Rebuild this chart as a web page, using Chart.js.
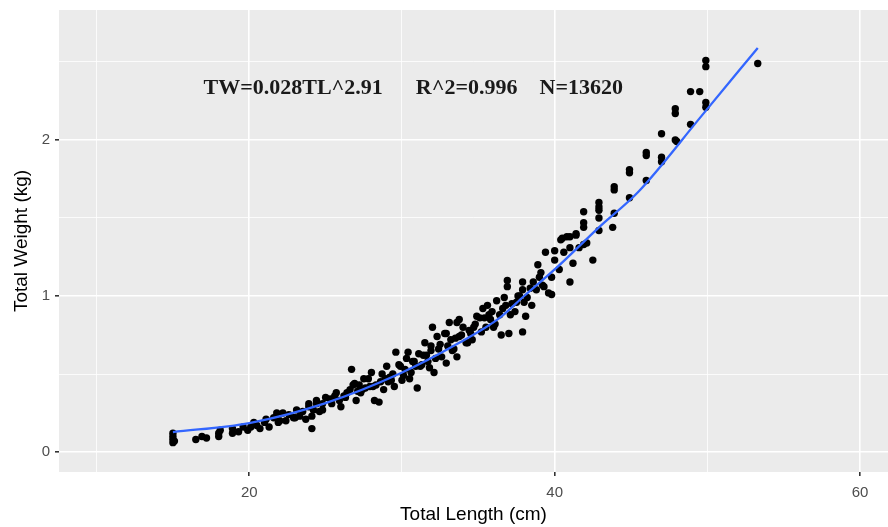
<!DOCTYPE html>
<html>
<head>
<meta charset="utf-8">
<script src="https://cdn.jsdelivr.net/npm/chart.js@4/dist/chart.umd.min.js"></script>
<style>
  html, body { margin: 0; padding: 0; background: #ffffff; }
  #wrap { width: 888px; height: 527px; }
</style>
</head>
<body>
<div id="wrap"><canvas id="lw" width="888" height="527"></canvas></div>
<script>
// total length (cm) of each fish
const lengthCm = [
  15, 15, 15, 15, 15.1, 16.5, 16.9, 17.2, 18, 18, 18.1, 18.9, 18.9, 19.3, 19.6,
  19.9, 20.1, 20.5, 20.7, 21, 21.3, 21.6, 21.8, 22.2, 22.4, 22.9, 23.1, 23.5, 23.9, 24.1, 24.1, 24.4,
  20.3, 21.1, 21.9, 22.6, 23.3, 23.7, 24.6, 24.8,
  23.9, 24.4, 24.8, 25.0, 25.4, 25.7, 26.0, 26.4, 26.7, 26.9, 27.0, 27.3, 27.5, 27.9,
  28.0, 28.2, 28.5, 28.6, 29.0, 29.2, 29.5, 29.6, 29.8, 30.0, 30.3, 30.4, 30.6, 30.9,
  31.0, 31.1, 31.5, 31.7, 31.9, 32.0, 32.1, 32.3, 32.6, 32.8, 32.9, 33.2, 33.6, 33.6,
  25.3, 26.2, 26.6, 27.6, 28.3, 28.9, 29.4, 30.2, 30.8, 31.3, 31.6, 32.4, 33.0, 33.4, 27.2, 28.8, 30.5, 31.8,
  32.9, 33.1, 33.75, 33.75, 34.4, 34.6, 34.9, 35.3, 35.5, 35.8, 36.2, 36.5, 36.7, 36.9, 36.9,
  37.0, 37.4, 37.5, 37.9, 37.9, 38.1, 38.2, 37.9, 38.5, 38.8, 38.9, 39.1, 39.2, 39.4, 39.6,
  39.8, 40.0, 40.0, 40.3, 40.4, 40.6, 40.8, 41.0, 41.2, 41.4, 41.6, 41.9, 42.1, 42.5, 39.8,
  34.0, 34.8, 35.1, 35.9, 36.4, 37.2, 37.7, 38.4, 36.0, 34.2, 35.6,
  24.2, 25.6, 26.3, 26.8, 27.4, 27.8, 28.1, 28.7, 29.1, 29.9,
  30.1, 30.7, 31.2, 31.4, 32.2, 32.5, 33.3, 33.9, 34.3, 34.7,
  35.2, 35.4, 36.1, 36.6, 37.1, 37.6, 38.0, 38.6, 39.3, 39.0,
  23.0, 22.0, 25.9, 27.1, 29.3, 31.9, 33.5, 34.5, 35.7, 36.8,
  47.0, 48.0, 46.0, 46.0, 47.0, 47.0, 44.9, 44.9, 46.0, 43.9, 43.9, 44.9, 42.9,
  42.9, 42.9, 43.9, 41.9, 42.9, 41.9, 43.8, 42.9, 41.4, 41.0, 40.5, 41.9, 41.0,
  49.9, 49.9, 53.3, 48.9, 49.5, 49.9, 49.9, 47.9, 47.9, 48.9, 47.9
];
// total weight (kg), same order
const weightKg = [
  0.06, 0.08, 0.10, 0.12, 0.07, 0.08, 0.10, 0.09, 0.12, 0.10, 0.14, 0.12, 0.15, 0.13, 0.16,
  0.14, 0.16, 0.17, 0.15, 0.19, 0.16, 0.22, 0.25, 0.25, 0.20, 0.22, 0.27, 0.26, 0.29, 0.23, 0.15, 0.31,
  0.19, 0.21, 0.19, 0.24, 0.23, 0.21, 0.26, 0.31,
  0.31, 0.33, 0.27, 0.35, 0.31, 0.38, 0.29, 0.38, 0.53, 0.44, 0.33, 0.38, 0.47, 0.42,
  0.51, 0.33, 0.32, 0.45, 0.55, 0.48, 0.42, 0.64, 0.56, 0.46, 0.60, 0.64, 0.51, 0.55,
  0.41, 0.63, 0.70, 0.58, 0.65, 0.80, 0.51, 0.74, 0.61, 0.76, 0.57, 0.72, 0.83, 0.61,
  0.34, 0.36, 0.40, 0.41, 0.43, 0.47, 0.50, 0.53, 0.58, 0.56, 0.62, 0.66, 0.68, 0.66, 0.43, 0.40, 0.47, 0.54,
  0.76, 0.83, 0.85, 0.74, 0.78, 0.72, 0.87, 0.92, 0.80, 0.85, 0.97, 0.75, 0.99, 1.10, 1.06,
  0.76, 0.90, 0.96, 1.09, 1.04, 0.87, 0.99, 0.77, 0.94, 1.04, 1.20, 1.15, 1.07, 1.28, 1.02,
  1.12, 1.23, 1.29, 1.17, 1.36, 1.28, 1.38, 1.09, 1.21, 1.40, 1.31, 1.47, 1.34, 1.23, 1.01,
  0.80, 0.82, 0.86, 0.90, 0.88, 0.95, 1.00, 1.05, 0.80, 0.70, 0.94,
  0.27, 0.36, 0.35, 0.43, 0.40, 0.47, 0.42, 0.50, 0.45, 0.55,
  0.49, 0.58, 0.55, 0.62, 0.60, 0.69, 0.65, 0.75, 0.70, 0.80,
  0.77, 0.86, 0.82, 0.92, 0.88, 1.00, 0.96, 1.09, 1.06, 1.12,
  0.22, 0.20, 0.33, 0.39, 0.46, 0.68, 0.73, 0.76, 0.88, 0.94,
  2.04, 1.99, 1.92, 1.90, 1.89, 1.86, 1.81, 1.79, 1.74, 1.70, 1.68, 1.63, 1.60,
  1.57, 1.55, 1.53, 1.54, 1.50, 1.44, 1.44, 1.42, 1.39, 1.38, 1.37, 1.33, 1.31,
  2.51, 2.47, 2.49, 2.31, 2.31, 2.24, 2.21, 2.20, 2.17, 2.10, 2.00
];

// fitted curve (blue line)
const fitX = [15, 20, 25, 29.8, 33.75, 36.4, 38, 40, 42.9, 45.5, 49.5, 53.3];
const fitY = [0.128, 0.186, 0.314, 0.50, 0.70, 0.86, 1.0, 1.17, 1.44, 1.67, 2.14, 2.59];

// grid positions; only the labelled ones are major
const xTicks = [10, 20, 30, 40, 50, 60];
const xLabels = [20, 40, 60];
const yTicks = [0, 0.5, 1, 1.5, 2, 2.5];
const yLabels = [0, 1, 2];

const eqText = 'TW=0.028TL^2.91      R^2=0.996    N=13620';

const points = lengthCm.map((v, i) => ({ x: v, y: weightKg[i] }));
const fitLine = fitX.map((v, i) => ({ x: v, y: fitY[i] }));

// grey panel like ggplot's theme_gray
const panelBg = {
  id: 'panelBg',
  beforeDraw(chart) {
    const a = chart.chartArea;
    const c = chart.ctx;
    c.save();
    c.fillStyle = '#ebebeb';
    c.fillRect(a.left, a.top, a.right - a.left, a.bottom - a.top);
    c.restore();
  }
};

const eqLabel = {
  id: 'eqLabel',
  afterDatasetsDraw(chart) {
    const c = chart.ctx;
    const px = chart.scales.x.getPixelForValue(30.74);
    const py = chart.scales.y.getPixelForValue(2.33);
    c.save();
    c.font = 'bold 22px "Liberation Serif", "Times New Roman", serif';
    c.fillStyle = '#1a1a1a';
    c.textAlign = 'center';
    c.textBaseline = 'middle';
    c.fillText(eqText, px, py);
    c.restore();
  }
};

function gridOpts(majors) {
  return {
    color: '#ffffff',
    lineWidth: ctx => majors.includes(ctx.tick && ctx.tick.value) ? 1.6 : 0.8,
    tickColor: ctx => majors.includes(ctx.tick && ctx.tick.value) ? '#333333' : 'rgba(0,0,0,0)',
    tickLength: 4,
    drawTicks: true
  };
}

const ctx = document.getElementById('lw').getContext('2d');
new Chart(ctx, {
  type: 'scatter',
  data: {
    datasets: [
      {
        type: 'line',
        data: fitLine,
        borderColor: '#3366ff',
        borderWidth: 2.3,
        pointRadius: 0,
        fill: false,
        cubicInterpolationMode: 'monotone'
      },
      {
        data: points,
        backgroundColor: '#000000',
        borderColor: '#000000',
        pointRadius: 3.7,
        borderWidth: 0
      }
    ]
  },
  options: {
    responsive: false,
    animation: false,
    layout: { autoPadding: false, padding: { top: 10, right: 0, left: 0, bottom: 0 } },
    plugins: {
      legend: { display: false },
      tooltip: { enabled: false }
    },
    scales: {
      x: {
        type: 'linear',
        min: 7.54,
        max: 61.83,
        afterBuildTicks: s => { s.ticks = xTicks.map(v => ({ value: v })); },
        afterFit: s => { s.height = 55; s.paddingLeft = 0; s.paddingRight = 0; },
        border: { display: false },
        grid: gridOpts(xLabels),
        ticks: {
          autoSkip: false,
          maxRotation: 0,
          padding: 8,
          color: '#4d4d4d',
          font: { family: '"Liberation Sans", Arial, sans-serif', size: 15 },
          callback: v => xLabels.includes(v) ? String(v) : ''
        },
        title: {
          display: true,
          text: 'Total Length (cm)',
          color: '#000000',
          font: { family: '"Liberation Sans", Arial, sans-serif', size: 19 },
          padding: { top: 0, bottom: 1 }
        }
      },
      y: {
        type: 'linear',
        min: -0.128,
        max: 2.833,
        afterBuildTicks: s => { s.ticks = yTicks.map(v => ({ value: v })); },
        afterFit: s => { s.width = 59; s.paddingTop = 0; s.paddingBottom = 0; },
        border: { display: false },
        grid: gridOpts(yLabels),
        ticks: {
          autoSkip: false,
          padding: 5,
          color: '#4d4d4d',
          font: { family: '"Liberation Sans", Arial, sans-serif', size: 15 },
          callback: v => yLabels.includes(v) ? String(v) : ''
        },
        title: {
          display: true,
          text: 'Total Weight (kg)',
          color: '#000000',
          font: { family: '"Liberation Sans", Arial, sans-serif', size: 19 },
          padding: { top: 10, bottom: 0 }
        }
      }
    }
  },
  plugins: [panelBg, eqLabel]
});
</script>
</body>
</html>
